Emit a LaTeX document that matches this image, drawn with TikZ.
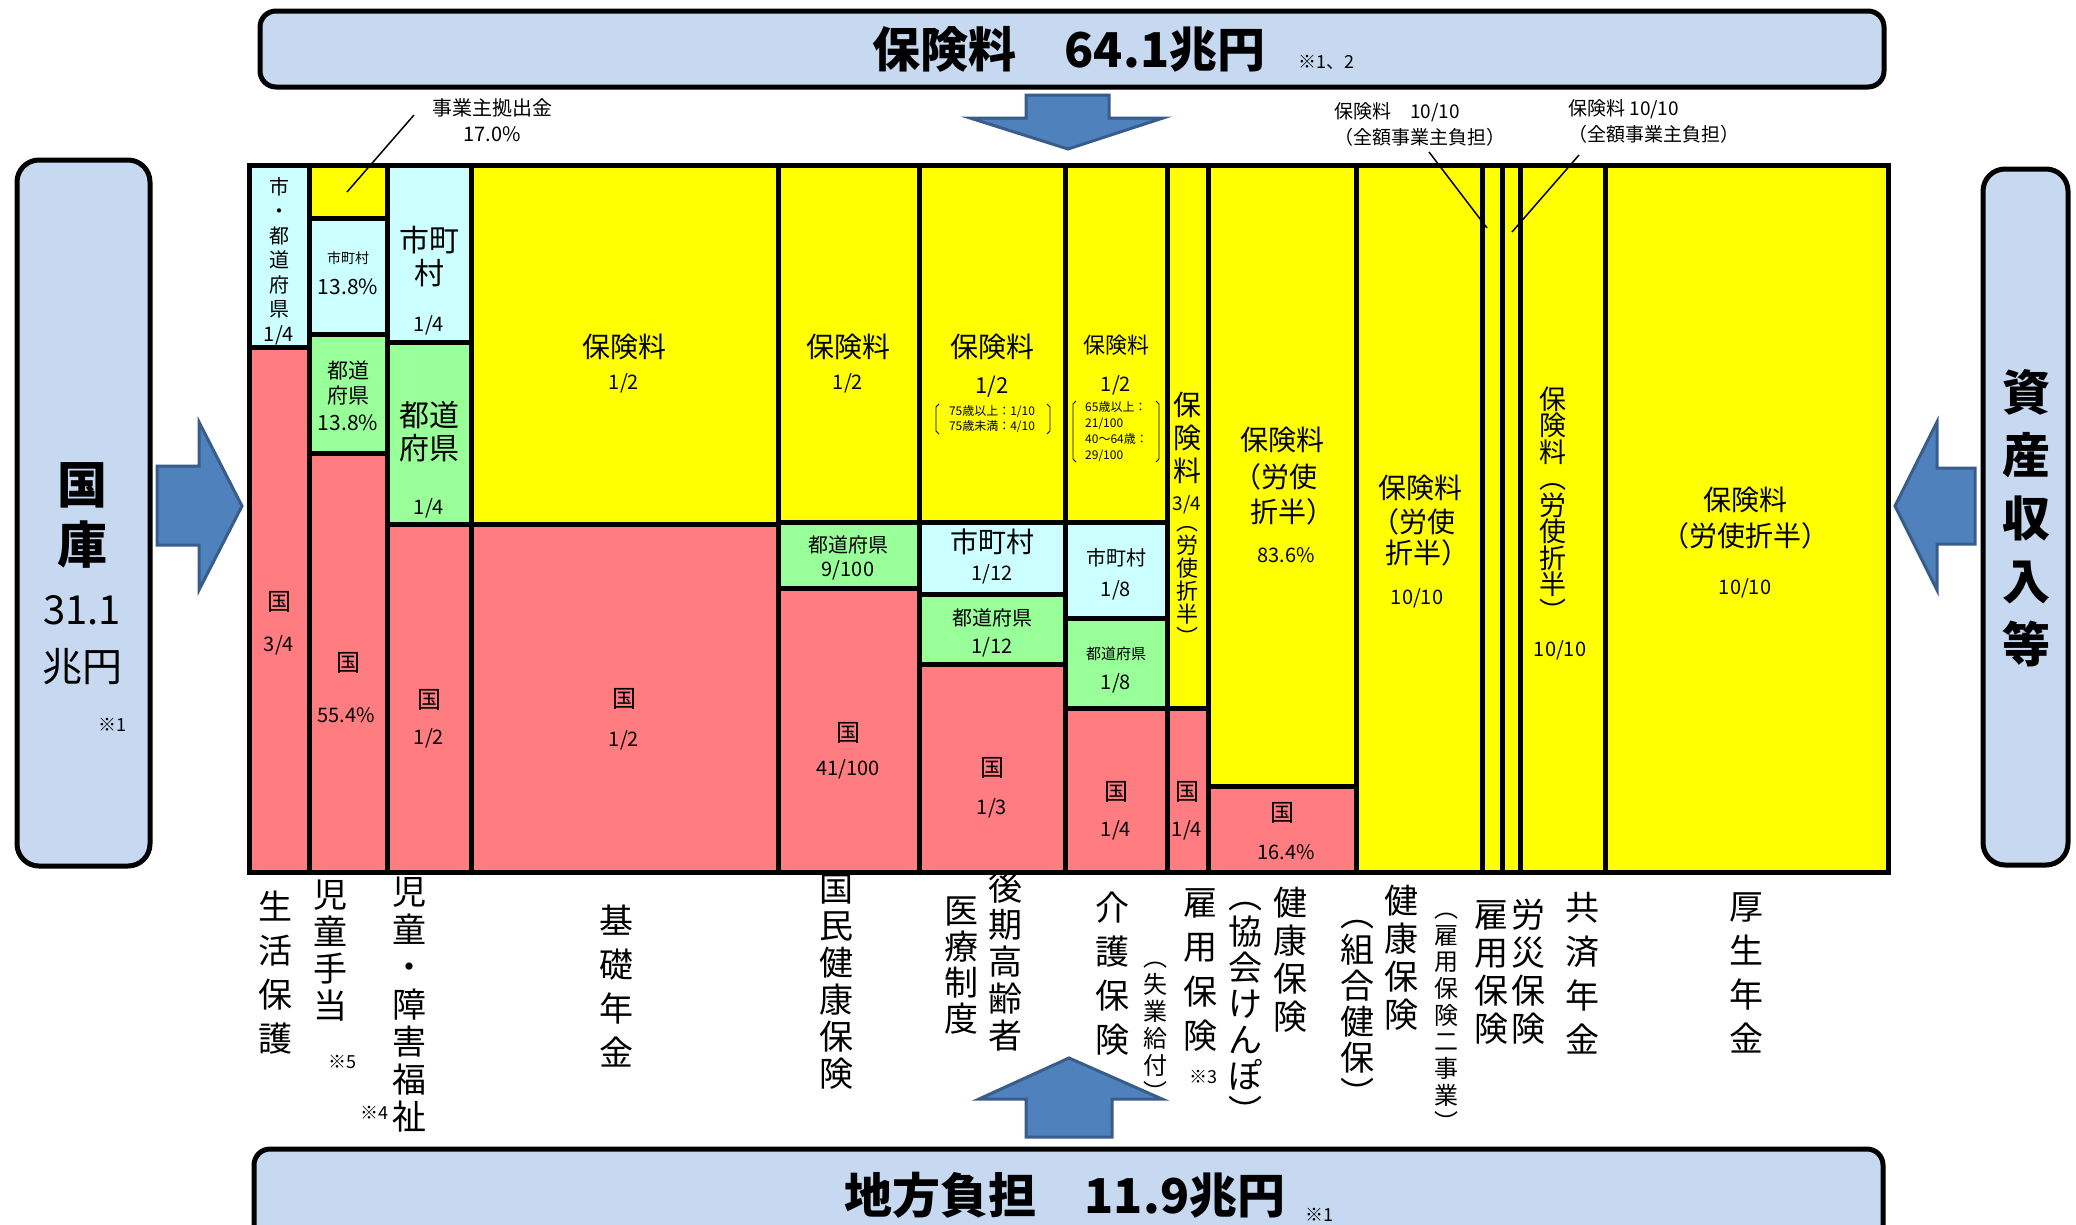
\documentclass[tikz,border=0pt]{standalone}
\usepackage{fontspec}
\setmainfont{Noto Sans CJK JP}
\definecolor{cy}{HTML}{CCFFFF}
\definecolor{gr}{HTML}{99FF99}
\definecolor{rd}{HTML}{FF7C80}
\definecolor{yl}{HTML}{FFFF00}
\definecolor{bn}{HTML}{C6D9F1}
\definecolor{ab}{HTML}{4F81BD}
\definecolor{abd}{HTML}{385D8A}
\newcommand{\fsz}[2]{\fontsize{#1}{#2}\selectfont}
\tikzset{
  cellbox/.style={draw=black, line width=5pt},
  tx/.style={inner sep=0pt, align=center},
  banner/.style={draw=black, line width=5pt, fill=bn, rounded corners=16pt},
  bluearrow/.style={fill=ab, draw=abd, line width=3pt, line join=miter},
  leader/.style={line width=1.5pt},
  brk/.style={line width=0.8pt},
}
\newcommand{\cell}[5]{\filldraw[cellbox, fill=#1] (#2,#3) rectangle (#4,#5);}
\begin{document}
\begin{tikzpicture}[x=1pt, y=-1pt]
\clip (0,0) rectangle (2076,1224);
\fill[white] (0,0) rectangle (2076,1224);

% ---------- banners ----------
\draw[banner] (260,11) rectangle (1884,87);
\node[tx, font=\fsz{48}{50}\bfseries] (topttl) at (1069,49) {保険料　64.1兆円};
\node[tx, font=\fsz{18}{20}, anchor=west] (topnote) at (1298,62) {※1、2};

\draw[banner] (254,1149) rectangle (1883,1260);
\node[tx, font=\fsz{48}{50}\bfseries] (botttl) at (1065,1195) {地方負担　11.9兆円};
\node[tx, font=\fsz{18}{20}, anchor=west] (botnote) at (1305,1215) {※1};

\draw[banner, rounded corners=22pt] (17,160) rectangle (150,866);
\node[tx, font=\fsz{50}{60}\bfseries] (kokko) at (82,515) {国\\庫};
\node[tx, font=\fsz{40}{57}] (kokkoval) at (82,640) {31.1\\兆円};
\node[tx, font=\fsz{18}{20}] (kokkonote) at (112,725) {※1};

\draw[banner, rounded corners=22pt] (1983,169) rectangle (2068,865);
\node[tx, font=\fsz{48}{63}\bfseries] (shisan) at (2026,518) {資\\産\\収\\入\\等};

% ---------- arrows ----------
\filldraw[bluearrow] (1026,95) -- (1109,95) -- (1109,118) -- (1163,118) -- (1068,149) -- (970,118) -- (1026,118) -- cycle;
\filldraw[bluearrow] (157,466) -- (199,466) -- (199,422) -- (242,506) -- (199,590) -- (199,545) -- (157,545) -- cycle;
\filldraw[bluearrow] (1975,468) -- (1937,468) -- (1937,422) -- (1895,506) -- (1937,590) -- (1937,544) -- (1975,544) -- cycle;
\filldraw[bluearrow] (1026,1137) -- (1026,1099) -- (979,1099) -- (1069,1058) -- (1162,1099) -- (1112,1099) -- (1112,1137) -- cycle;

% ---------- cells ----------
% col1
\cell{cy}{249}{165}{309}{347}
\cell{rd}{249}{347}{309}{872}
% col2
\cell{yl}{309}{165}{387}{218}
\cell{cy}{309}{218}{387}{334}
\cell{gr}{309}{334}{387}{453}
\cell{rd}{309}{453}{387}{872}
% col3
\cell{cy}{387}{165}{471}{342}
\cell{gr}{387}{342}{471}{524}
\cell{rd}{387}{524}{471}{872}
% col4
\cell{yl}{471}{165}{778}{524}
\cell{rd}{471}{524}{778}{872}
% col5
\cell{yl}{778}{165}{919}{522}
\cell{gr}{778}{522}{919}{588}
\cell{rd}{778}{588}{919}{872}
% col6
\cell{yl}{919}{165}{1065}{522}
\cell{cy}{919}{522}{1065}{594}
\cell{gr}{919}{594}{1065}{664}
\cell{rd}{919}{664}{1065}{872}
% col7
\cell{yl}{1065}{165}{1167}{522}
\cell{cy}{1065}{522}{1167}{618}
\cell{gr}{1065}{618}{1167}{708}
\cell{rd}{1065}{708}{1167}{872}
% col8
\cell{yl}{1167}{165}{1208}{708}
\cell{rd}{1167}{708}{1208}{872}
% col9
\cell{yl}{1208}{165}{1356}{786}
\cell{rd}{1208}{786}{1356}{872}
% col10-14
\cell{yl}{1356}{165}{1482}{872}
\cell{yl}{1482}{165}{1502}{872}
\cell{yl}{1502}{165}{1520}{872}
\cell{yl}{1520}{165}{1605}{872}
\cell{yl}{1605}{165}{1888}{872}

% ---------- cell texts ----------
% col1
\node[tx, font=\fsz{20}{24.5}] (c1a) at (279,261) {市\\・\\都\\道\\府\\県\\1/4};
\node[tx, font=\fsz{24}{26}] (c1k) at (279,602) {国};
\node[tx, font=\fsz{20}{22}] (c1kv) at (279,645) {3/4};
% col2
\node[tx, font=\fsz{14}{16}] (c2c) at (348,258) {市町村};
\node[tx, font=\fsz{21}{23}] (c2cv) at (348,287) {13.8\%};
\node[tx, font=\fsz{21}{25}] (c2g) at (348,383) {都道\\府県};
\node[tx, font=\fsz{21}{23}] (c2gv) at (348,423) {13.8\%};
\node[tx, font=\fsz{24}{26}] (c2k) at (348,663) {国};
\node[tx, font=\fsz{20}{22}] (c2kv) at (346,715) {55.4\%};
% col3
\node[tx, font=\fsz{30}{33}] (c3c) at (429,257) {市町\\村};
\node[tx, font=\fsz{20}{22}] (c3cv) at (429,325) {1/4};
\node[tx, font=\fsz{30}{33}] (c3g) at (429,432) {都道\\府県};
\node[tx, font=\fsz{20}{22}] (c3gv) at (429,508) {1/4};
\node[tx, font=\fsz{24}{26}] (c3k) at (429,700) {国};
\node[tx, font=\fsz{20}{22}] (c3kv) at (429,738) {1/2};
% col4
\node[tx, font=\fsz{28}{30}] (c4h) at (624,347) {保険料};
\node[tx, font=\fsz{20}{22}] (c4hv) at (624,383) {1/2};
\node[tx, font=\fsz{24}{26}] (c4k) at (624,699) {国};
\node[tx, font=\fsz{20}{22}] (c4kv) at (624,740) {1/2};
% col5
\node[tx, font=\fsz{28}{30}] (c5h) at (848,347) {保険料};
\node[tx, font=\fsz{20}{22}] (c5hv) at (848,383) {1/2};
\node[tx, font=\fsz{20}{22}] (c5g) at (848,545) {都道府県};
\node[tx, font=\fsz{20}{22}] (c5gv) at (848,570) {9/100};
\node[tx, font=\fsz{24}{26}] (c5k) at (848,733) {国};
\node[tx, font=\fsz{20}{22}] (c5kv) at (848,769) {41/100};
% col6
\node[tx, font=\fsz{28}{30}] (c6h) at (992,347) {保険料};
\node[tx, font=\fsz{22}{24}] (c6hv) at (992,387) {1/2};
\node[tx, font=\fsz{12}{15}] (c6hd) at (992,419.5) {75歳以上：1/10\\75歳未満：4/10};
\draw[brk] (939,404) -- (936,407) -- (936,431) -- (939,434);
\draw[brk] (1047,404) -- (1050,407) -- (1050,431) -- (1047,434);
\node[tx, font=\fsz{28}{30}] (c6c) at (992,542) {市町村};
\node[tx, font=\fsz{20}{22}] (c6cv) at (992,574) {1/12};
\node[tx, font=\fsz{20}{22}] (c6g) at (992,618) {都道府県};
\node[tx, font=\fsz{20}{22}] (c6gv) at (992,647) {1/12};
\node[tx, font=\fsz{24}{26}] (c6k) at (992,768) {国};
\node[tx, font=\fsz{20}{22}] (c6kv) at (992,808) {1/3};
% col7
\node[tx, font=\fsz{22}{24}] (c7h) at (1116,345) {保険料};
\node[tx, font=\fsz{20}{22}] (c7hv) at (1116,385) {1/2};
\node[tx, font=\fsz{12}{15.7}, align=left, anchor=west] (c7hd) at (1085,431.5) {65歳以上：\\21/100\\40～64歳：\\29/100};
\draw[brk] (1076,401) -- (1073,404) -- (1073,459) -- (1076,462);
\draw[brk] (1156,401) -- (1159,404) -- (1159,459) -- (1156,462);
\node[tx, font=\fsz{20}{22}] (c7c) at (1116,558) {市町村};
\node[tx, font=\fsz{20}{22}] (c7cv) at (1116,590) {1/8};
\node[tx, font=\fsz{15}{17}] (c7g) at (1116,654) {都道府県};
\node[tx, font=\fsz{20}{22}] (c7gv) at (1116,683) {1/8};
\node[tx, font=\fsz{24}{26}] (c7k) at (1116,792) {国};
\node[tx, font=\fsz{20}{22}] (c7kv) at (1116,830) {1/4};
% col8
\node[tx, font=\fsz{28}{33}] (c8h) at (1187,438) {保\\険\\料};
\node[tx, font=\fsz{19}{21}] (c8hv) at (1187,505) {3/4};
\node[tx, font=\fsz{22}{23}] (c8hr) at (1187,586) {︵\\労\\使\\折\\半\\︶};
\node[tx, font=\fsz{24}{26}] (c8k) at (1187,792) {国};
\node[tx, font=\fsz{20}{22}] (c8kv) at (1187,830) {1/4};
% col9
\node[tx, font=\fsz{28}{30}] (c9h) at (1282,440) {保険料};
\node[tx, font=\fsz{28}{30}] (c9h2) at (1275,477) {（労使};
\node[tx, font=\fsz{28}{30}] (c9h3) at (1292,512) {折半）};
\node[tx, font=\fsz{20}{22}] (c9hv) at (1286,555) {83.6\%};
\node[tx, font=\fsz{24}{26}] (c9k) at (1282,813) {国};
\node[tx, font=\fsz{20}{22}] (c9kv) at (1286,852) {16.4\%};
% col10
\node[tx, font=\fsz{28}{30}] (c10h) at (1420,488) {保険料};
\node[tx, font=\fsz{28}{30}] (c10h2) at (1413,522) {（労使};
\node[tx, font=\fsz{28}{30}] (c10h3) at (1427,553) {折半）};
\node[tx, font=\fsz{20}{22}] (c10hv) at (1417,598) {10/10};
% col13
\node[tx, font=\fsz{27}{26.5}] (c13h) at (1553,504) {保\\険\\料\\︵\\労\\使\\折\\半\\︶};
\node[tx, font=\fsz{20}{22}] (c13hv) at (1560,650) {10/10};
% col14
\node[tx, font=\fsz{28}{30}] (c14h) at (1745,500) {保険料};
\node[tx, font=\fsz{28}{30}] (c14h2) at (1745,536) {（労使折半）};
\node[tx, font=\fsz{20}{22}] (c14hv) at (1745,588) {10/10};

% ---------- leader labels ----------
\node[tx, font=\fsz{20}{26}] (jigyo) at (492,120) {事業主拠出金\\17.0\%};
\coordinate (jigyoP) at (347,192);
\draw[leader] (jigyoP) -- (414,115);
\node[tx, font=\fsz{19}{26}, align=left, anchor=west] (zen1) at (1334,124) {保険料　10/10\\（全額事業主負担）};
\coordinate (zen1P) at (1487,228);
\draw[leader] (zen1P) -- (1429,152);
\node[tx, font=\fsz{19}{26}, align=left, anchor=west] (zen2) at (1568,121) {保険料 10/10\\（全額事業主負担）};
\coordinate (zen2P) at (1512,232);
\draw[leader] (zen2P) -- (1579,155);

% ---------- bottom labels ----------
\node[tx, font=\fsz{34}{44}] (l1) at (275,973) {生\\活\\保\\護};
\node[tx, font=\fsz{34}{37}] (l2) at (330,951) {児\\童\\手\\当};
\node[tx, font=\fsz{18}{20}] (l2n) at (342,1062) {※5};
\node[tx, font=\fsz{34}{37.5}] (l3) at (409,1005) {児\\童\\・\\障\\害\\福\\祉};
\node[tx, font=\fsz{18}{20}] (l3n) at (374,1113) {※4};
\node[tx, font=\fsz{34}{44}] (l4) at (616,986) {基\\礎\\年\\金};
\node[tx, font=\fsz{34}{37}] (l5) at (836,982) {国\\民\\健\\康\\保\\険};
\node[tx, font=\fsz{34}{37}] (l6a) at (1005,962) {後\\期\\高\\齢\\者};
\node[tx, font=\fsz{34}{36}] (l6b) at (961,966) {医\\療\\制\\度};
\node[tx, font=\fsz{34}{44}] (l7) at (1112,974) {介\\護\\保\\険};
\node[tx, font=\fsz{24}{27}] (l8b) at (1155,1032) {︵\\失\\業\\給\\付\\︶};
\node[tx, font=\fsz{34}{44.5}] (l8a) at (1200,970) {雇\\用\\保\\険};
\node[tx, font=\fsz{18}{20}] (l8n) at (1203,1077) {※3};
\node[tx, font=\fsz{34}{38}] (l9a) at (1290,960) {健\\康\\保\\険};
\node[tx, font=\fsz{34}{36}] (l9b) at (1245,1013) {︵\\協\\会\\け\\ん\\ぽ\\︶};
\node[tx, font=\fsz{34}{38}] (l10a) at (1401,958) {健\\康\\保\\険};
\node[tx, font=\fsz{34}{36}] (l10b) at (1357,1013) {︵\\組\\合\\健\\保\\︶};
\node[tx, font=\fsz{24}{26.7}] (l11b) at (1446,1022) {︵\\雇\\用\\保\\険\\二\\事\\業\\︶};
\node[tx, font=\fsz{34}{38}] (l11a) at (1491,972) {雇\\用\\保\\険};
\node[tx, font=\fsz{34}{38}] (l12) at (1528,972) {労\\災\\保\\険};
\node[tx, font=\fsz{34}{44}] (l13) at (1582,973) {共\\済\\年\\金};
\node[tx, font=\fsz{34}{44}] (l14) at (1746,973) {厚\\生\\年\\金};
\end{tikzpicture}
\end{document}
